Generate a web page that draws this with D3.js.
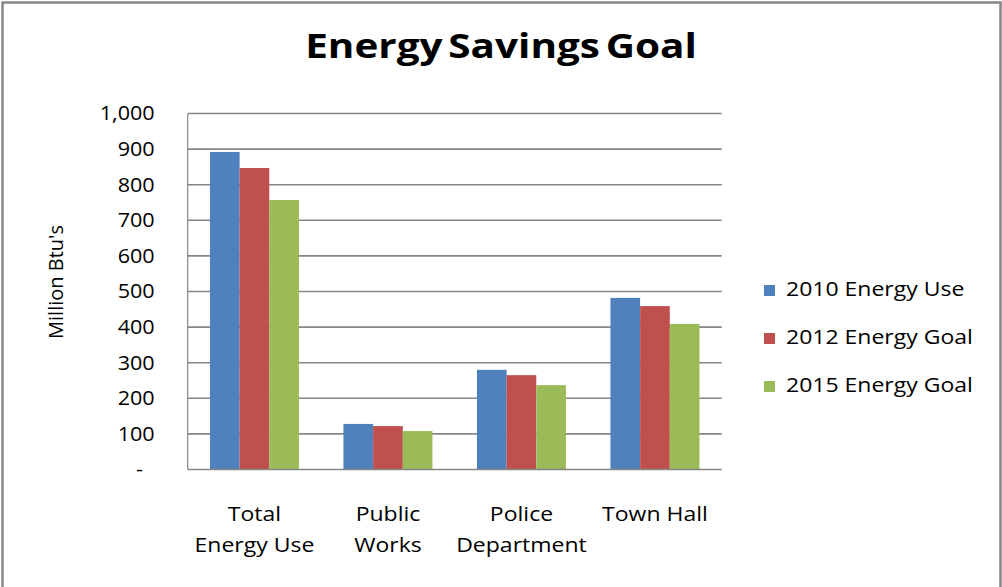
<!DOCTYPE html>
<html>
<head>
<meta charset="utf-8">
<script src="https://cdn.jsdelivr.net/npm/d3@7"></script>
<style>
  html, body { margin: 0; padding: 0; background: #fff; }
  svg { display: block; }
  text { font-family: "Open Sans", Lato, sans-serif; fill: #000; }
</style>
</head>
<body>
<script>
const categories = [["Total", "Energy Use"], ["Public", "Works"], ["Police", "Department"], ["Town Hall"]];
const seriesNames = ["2010 Energy Use", "2012 Energy Goal", "2015 Energy Goal"];
const seriesColors = ["#4F81BD", "#C0504D", "#9BBB59"];
const energy2010 = [892, 128, 280, 482];
const goal2012 = [847, 122, 265, 459];
const goal2015 = [757, 108, 237, 409];
const yTicks = [0, 100, 200, 300, 400, 500, 600, 700, 800, 900, 1000];
const title = "Energy Savings Goal";
const yLabel = "Million Btu's";

const seriesValues = [energy2010, goal2012, goal2015];
const W = 1002, H = 587;
const pLeft = 187.7, pRight = 721.7, pTop = 113.5, pBottom = 469.5;
const FONT = "'Open Sans', Lato, sans-serif";
const SX = 1.15; // horizontal stretch of the reference's text

const svg = d3.select("body").append("svg").attr("width", W).attr("height", H);

// outer border
svg.append("rect").attr("x", 2.5).attr("y", 2.5).attr("width", 998).attr("height", 620)
  .attr("fill", "#fff").attr("stroke", "#868686").attr("stroke-width", 2.5);

const catKeys = categories.map(c => c.join(" "));
const x0 = d3.scaleBand().domain(catKeys).range([pLeft, pRight]).paddingInner(1/3).paddingOuter(1/6);
const x1 = d3.scaleBand().domain(seriesNames).range([0, x0.bandwidth()]);
const y = d3.scaleLinear().domain([0, 1000]).range([pBottom, pTop]);

// gridlines
svg.append("g").selectAll("line").data(yTicks.filter(d => d > 0)).join("line")
  .attr("x1", pLeft).attr("x2", pRight)
  .attr("y1", d => y(d)).attr("y2", d => y(d))
  .attr("stroke", "#868686").attr("stroke-width", 1.6);

// bars
const groups = svg.append("g").selectAll("g").data(catKeys).join("g")
  .attr("transform", d => `translate(${x0(d)},0)`);
groups.selectAll("rect").data((d, i) => seriesNames.map((s, j) => ({ s, v: seriesValues[j][i], c: seriesColors[j] })))
  .join("rect")
  .attr("x", d => x1(d.s)).attr("width", x1.bandwidth())
  .attr("y", d => y(d.v)).attr("height", d => y(0) - y(d.v))
  .attr("fill", d => d.c);

// axes lines
svg.append("line").attr("x1", pLeft).attr("x2", pLeft).attr("y1", pTop).attr("y2", pBottom)
  .attr("stroke", "#868686").attr("stroke-width", 1.2);
svg.append("line").attr("x1", pLeft).attr("x2", pRight).attr("y1", pBottom).attr("y2", pBottom)
  .attr("stroke", "#868686").attr("stroke-width", 1.6);

// y axis labels
const tickSX = 1.08, tickPad = 33;
const yAxis = d3.axisLeft(y).tickValues(yTicks).tickSize(0).tickPadding(tickPad)
  .tickFormat(d => d === 0 ? "-" : d3.format(",")(d));
const yg = svg.append("g").attr("transform", `translate(${pLeft},0)`).call(yAxis);
yg.select(".domain").remove();
yg.selectAll("text").style("font-family", FONT).style("font-size", "20px").attr("fill", "#000")
  .attr("transform", `scale(${tickSX},1)`)
  .attr("x", -tickPad / tickSX);
yg.selectAll(".tick").filter(d => d === 0).select("text").attr("dx", -11);

// category labels
const cg = svg.append("g").selectAll("g").data(categories).join("g")
  .attr("transform", (d, i) => `translate(${x0(catKeys[i]) + x0.bandwidth() / 2},521) scale(${SX},1)`);
cg.append("text").attr("text-anchor", "middle").attr("font-size", "20px")
  .selectAll("tspan").data(d => d).join("tspan")
  .attr("x", 0)
  .attr("dy", (d, i) => i === 0 ? 0 : 31)
  .text(d => d);

// title
svg.append("g").attr("transform", "translate(501,58) scale(1.19,1)")
  .append("text").attr("text-anchor", "middle")
  .attr("font-size", "34px").attr("font-weight", "bold").attr("word-spacing", "-4px").text(title);

// y label
svg.append("text").attr("transform", "translate(63,282) rotate(-90)").attr("text-anchor", "middle")
  .attr("font-size", "20px").text(yLabel);

// legend
const lg = svg.append("g").selectAll("g").data(seriesNames).join("g")
  .attr("transform", (d, i) => `translate(764,${288 + i * 48})`);
lg.append("rect").attr("x", 0).attr("y", -3).attr("width", 11).attr("height", 11)
  .attr("fill", (d, i) => seriesColors[i]);
lg.append("g").attr("transform", `translate(22,8) scale(${SX},1)`)
  .append("text").attr("font-size", "20px").text(d => d);
</script>
</body>
</html>
